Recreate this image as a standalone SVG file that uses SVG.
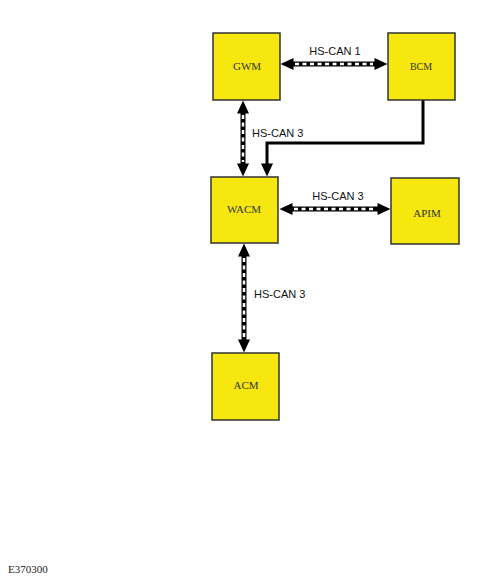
<svg xmlns="http://www.w3.org/2000/svg" width="491" height="579" viewBox="0 0 491 579">
<style>
.box{fill:#f6e70f;stroke:#333;stroke-width:1.5}
.nl{font-family:"Liberation Serif",serif;font-size:11px;fill:#333;text-anchor:middle}
.cl{font-family:"Liberation Sans",Arial,sans-serif;font-size:11px;fill:#111}
.bus{stroke:#000;stroke-width:5;fill:none}
.dash{stroke:#fff;stroke-width:2.5;stroke-dasharray:4 3.5;fill:none}
.wire{stroke:#000;stroke-width:3;fill:none}
</style>
<defs>
<marker id="ah" markerUnits="userSpaceOnUse" markerWidth="14" markerHeight="12" viewBox="0 0 13 12" refX="0.5" refY="6" orient="auto-start-reverse">
<path d="M0,0 L13,6 L0,12 z" fill="#000"/>
</marker>
</defs>
<rect width="491" height="579" fill="#fff"/>
<g id="connectors">
<line class="bus" x1="293" y1="64" x2="375" y2="64" marker-start="url(#ah)" marker-end="url(#ah)"/>
<line class="dash" x1="295" y1="64" x2="373" y2="64"/>
<line class="bus" x1="243" y1="113" x2="243" y2="164" marker-start="url(#ah)" marker-end="url(#ah)"/>
<line class="dash" x1="243" y1="115" x2="243" y2="162"/>
<line class="bus" x1="292" y1="209" x2="378" y2="209" marker-start="url(#ah)" marker-end="url(#ah)"/>
<line class="dash" x1="294" y1="209" x2="376" y2="209"/>
<line class="bus" x1="244" y1="256" x2="244" y2="340" marker-start="url(#ah)" marker-end="url(#ah)"/>
<line class="dash" x1="244" y1="258" x2="244" y2="338"/>
<path class="wire" d="M423,100 V143 H267 V164" marker-end="url(#ah)"/>
<text class="cl" x="335" y="55" text-anchor="middle">HS-CAN 1</text>
<text class="cl" x="252" y="137">HS-CAN 3</text>
<text class="cl" x="338" y="200" text-anchor="middle">HS-CAN 3</text>
<text class="cl" x="254" y="298">HS-CAN 3</text>
</g>
<g id="GWM"><rect class="box" x="213" y="33" width="67" height="67"/><text class="nl" x="247" y="70">GWM</text></g>
<g id="BCM"><rect class="box" x="388" y="33" width="67" height="67"/><text class="nl" x="421" y="70" style="font-size:10px">BCM</text></g>
<g id="WACM"><rect class="box" x="211" y="177" width="67" height="66"/><text class="nl" x="244" y="213">WACM</text></g>
<g id="APIM"><rect class="box" x="391" y="178" width="68" height="66"/><text class="nl" x="427" y="217">APIM</text></g>
<g id="ACM"><rect class="box" x="212" y="353" width="67" height="67"/><text class="nl" x="246" y="389">ACM</text></g>
<text x="8" y="573" style="font-family:'Liberation Serif',serif;font-size:11px;fill:#222">E370300</text>
</svg>
